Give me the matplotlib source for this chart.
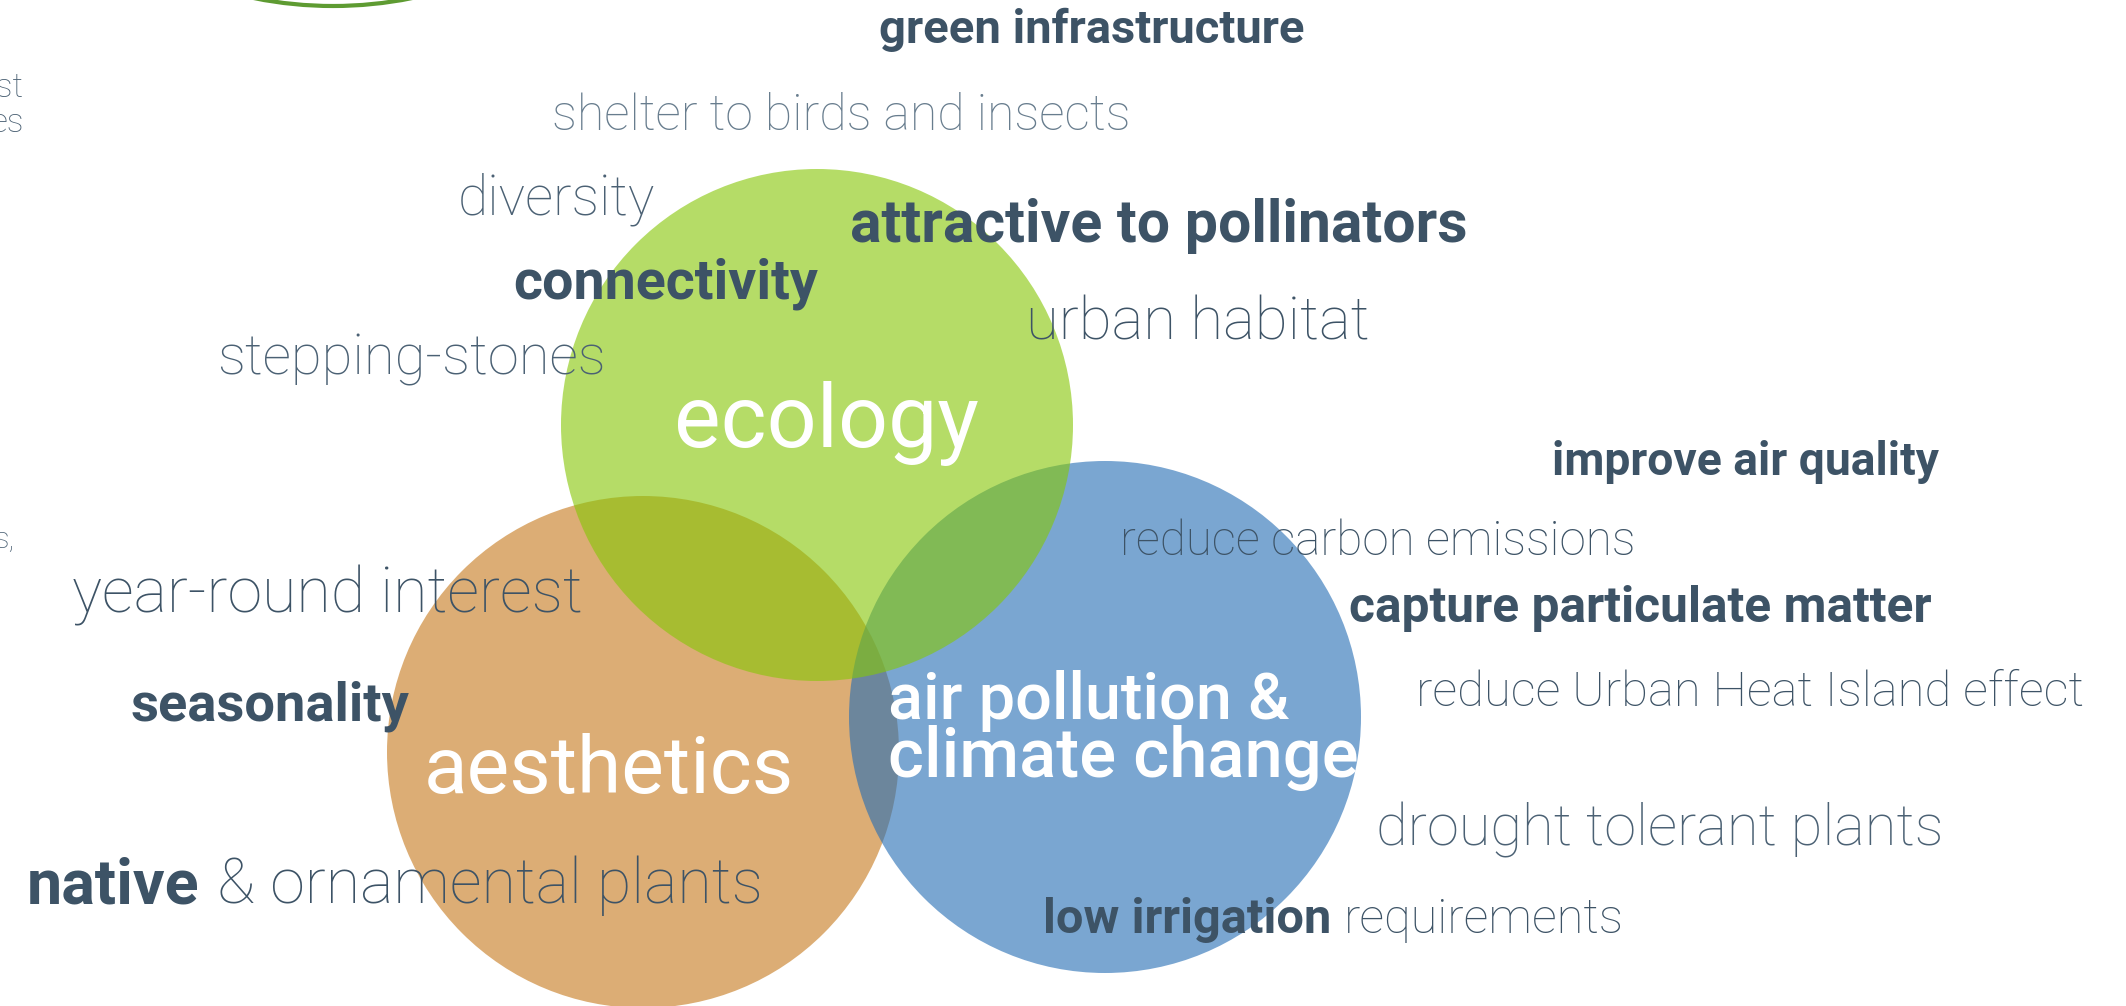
import matplotlib.pyplot as plt
from matplotlib.patches import Circle

W, H = 2126, 1006
FONT = ["Roboto", "DejaVu Sans"]
DARK = "#3d5366"
MID = "#4b6174"
LIGHT = "#687d8e"

# the three themes of the diagram
themes = ["aesthetics", "ecology", "air pollution &\nclimate change"]
theme_colors = ["#c67a1d", "#86c707", "#266eb5"]

# phrases around the circles: list of (text, bold?) pieces
phrases = [
    [("green infrastructure", True)],
    [("shelter to birds and insects", False)],
    [("diversity", False)],
    [("attractive to pollinators", True)],
    [("connectivity", True)],
    [("urban habitat", False)],
    [("stepping-stones", False)],
    [("improve air quality", True)],
    [("reduce carbon emissions", False)],
    [("year-round interest", False)],
    [("capture particulate matter", True)],
    [("reduce Urban Heat Island effect", False)],
    [("seasonality", True)],
    [("drought tolerant plants", False)],
    [("native", True), ("& ornamental plants", False)],
    [("low irrigation", True), ("requirements", False)],
]
phrase_colors = [DARK, LIGHT, MID, DARK, DARK, DARK, MID, DARK, DARK,
                 DARK, DARK, DARK, DARK, MID, DARK, DARK]

# layout (pixels): left x, baseline y, width
phrase_layout = [
    (879, 43, 425), (552, 130, 577), (458, 214, 197), (850, 242, 617),
    (513, 298, 305), (1026, 340, 343), (217, 375, 388), (1552, 475, 387),
    (1120, 555, 515), (72, 612, 510), (1349, 622, 582), (1416, 706, 667),
    (131, 721, 278), (1376, 846, 566), (27, 903, 736), (1043, 933, 580),
]

# circle layout: bottom to top -> aesthetics, air pollution, ecology
circle_centers = [(643, 752), (817, 425), (1105, 717)]
R = 256
draw_order = [0, 2, 1]

# white labels inside circles: (x, baseline, width)
label_layout = [
    [(424, 793, 369)],
    [(674, 447, 304)],
    [(888, 719, 400), (888, 777, 469)],
]
label_weights = ["normal", "normal", "medium"]

fig = plt.figure(figsize=(W / 100, H / 100), dpi=100)
ax = fig.add_axes([0, 0, 1, 1])
ax.set_xlim(0, W)
ax.set_ylim(H, 0)
ax.axis("off")

# small ring cut off at the top
ax.add_patch(Circle((333, -394), 400, fill=False, edgecolor="#5e9b32", lw=3))

for i in draw_order:
    ax.add_patch(Circle(circle_centers[i], R, facecolor=theme_colors[i],
                        alpha=0.61, lw=0, zorder=2))

renderer = fig.canvas.get_renderer()


def place(pieces, x, y, width, color, weights):
    size0 = 30
    texts = []
    for s, wt in zip(pieces, weights):
        t = ax.text(x, y, s, fontsize=size0, fontweight=wt, color=color,
                    family=FONT, ha="left", va="baseline", zorder=5)
        texts.append(t)
    widths = [t.get_window_extent(renderer).width for t in texts]
    gap = 0.27 * size0 * 100 / 72
    total = sum(widths) + gap * (len(texts) - 1)
    k = width / total
    cur = x
    for t, w in zip(texts, widths):
        t.set_fontsize(size0 * k)
        t.set_x(cur)
        cur += (w + gap) * k


for pieces, col, (x, y, w) in zip(phrases, phrase_colors, phrase_layout):
    place([p[0] for p in pieces], x, y, w, col,
          ["bold" if p[1] else "light" for p in pieces])

for name, lay, wt in zip(themes, label_layout, label_weights):
    for line, (x, y, w) in zip(name.split("\n"), lay):
        place([line], x, y, w, "white", [wt])

# fragments of text cut off at the left edge
ax.text(24, 97, "est", fontsize=24, fontweight="light", color=MID,
        family=FONT, ha="right", va="baseline")
ax.text(24, 132, "es", fontsize=24, fontweight="light", color=MID,
        family=FONT, ha="right", va="baseline")
ax.text(15, 548, "s,", fontsize=21, fontweight="light", color=MID,
        family=FONT, ha="right", va="baseline")

fig.savefig("out.png", dpi=100, facecolor="white")
